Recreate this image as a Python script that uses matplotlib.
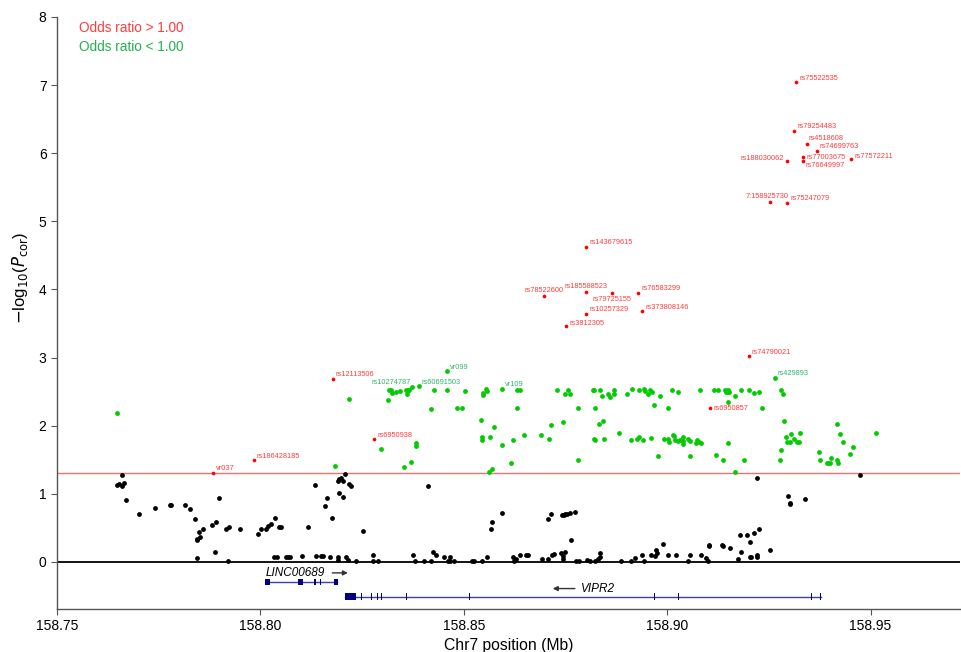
import numpy as np
import matplotlib
matplotlib.use("Agg")
import matplotlib.pyplot as plt

plt.rcParams['font.family'] = ['Liberation Sans', 'DejaVu Sans']

# non-significant SNPs (black)
black_x = [158.7660, 158.7647, 158.7653, 158.7661, 158.7665, 158.7669, 158.7702, 158.7742, 158.7778, 158.7780,
           158.7815, 158.7828, 158.7839, 158.7850, 158.7845, 158.7843, 158.7851, 158.7859, 158.7843, 158.7882,
           158.7892, 158.7889, 158.7898, 158.7916, 158.7924, 158.7920, 158.7950, 158.7994, 158.8002, 158.8014,
           158.8018, 158.8025, 158.8035, 158.8046, 158.8051, 158.8034, 158.8041, 158.8063, 158.8068, 158.8073,
           158.8103, 158.8118, 158.8135, 158.8136, 158.8148, 158.8153, 158.8163, 158.8158, 158.8176, 158.8170,
           158.8190, 158.8194, 158.8193, 158.8190, 158.8190, 158.8197, 158.8202, 158.8207, 158.8217, 158.8224,
           158.8202, 158.8253, 158.8413, 158.8566, 158.8569, 158.8595, 158.8707, 158.8210, 158.8215, 158.8235,
           158.8277, 158.8277, 158.8290, 158.8375, 158.8380, 158.8403, 158.8420, 158.8425, 158.8431, 158.8451,
           158.8461, 158.8466, 158.8466, 158.8475, 158.8521, 158.8526, 158.8546, 158.8556, 158.8620, 158.8623,
           158.8628, 158.8638, 158.8652, 158.8657, 158.8692, 158.8708, 158.8715, 158.8742, 158.8746, 158.8750,
           158.8755, 158.8760, 158.8773, 158.8763, 158.8716, 158.8723, 158.8739, 158.8745, 158.8750, 158.8745,
           158.8775, 158.8783, 158.8802, 158.8811, 158.8823, 158.8831, 158.8834, 158.8836, 158.8887, 158.8912,
           158.8921, 158.8939, 158.8942, 158.8960, 158.8969, 158.8973, 158.8975, 158.8991, 158.9002, 158.9021,
           158.9052, 158.9055, 158.9083, 158.9096, 158.9100, 158.9102, 158.9104, 158.9134, 158.9137, 158.9154,
           158.9175, 158.9204, 158.9222, 158.9474, 158.9297, 158.9301, 158.9303, 158.9338, 158.9178, 158.9197,
           158.9213, 158.9226, 158.9203, 158.9181, 158.9207, 158.9221, 158.9221, 158.9253]
black_y = [1.27, 1.13, 1.15, 1.12, 1.16, 0.91, 0.70, 0.79, 0.84, 0.84,
           0.84, 0.78, 0.63, 0.44, 0.34, 0.32, 0.36, 0.48, 0.06, 0.55,
           0.58, 0.14, 0.94, 0.48, 0.51, 0.01, 0.48, 0.41, 0.48, 0.48,
           0.53, 0.56, 0.65, 0.51, 0.51, 0.08, 0.07, 0.08, 0.08, 0.08,
           0.09, 0.51, 1.13, 0.09, 0.09, 0.09, 0.94, 0.82, 0.65, 0.07,
           1.19, 1.22, 1.01, 0.08, 0.03, 1.24, 1.19, 1.29, 1.15, 1.12,
           0.96, 0.45, 1.12, 0.48, 0.59, 0.72, 0.63, 0.08, 0.03, 0.01,
           0.10, 0.01, 0.01, 0.10, 0.01, 0.01, 0.01, 0.15, 0.10, 0.08,
           0.01, 0.08, 0.01, 0.01, 0.01, 0.01, 0.01, 0.08, 0.08, 0.01,
           0.04, 0.11, 0.11, 0.11, 0.04, 0.04, 0.70, 0.69, 0.69, 0.70,
           0.71, 0.72, 0.74, 0.33, 0.11, 0.12, 0.13, 0.09, 0.15, 0.04,
           0.01, 0.01, 0.03, 0.01, 0.01, 0.04, 0.13, 0.08, 0.01, 0.01,
           0.06, 0.11, 0.01, 0.11, 0.09, 0.18, 0.13, 0.27, 0.11, 0.10,
           0.01, 0.10, 0.10, 0.06, 0.01, 0.23, 0.25, 0.25, 0.24, 0.20,
           0.04, 0.07, 1.23, 1.27, 0.97, 0.85, 0.86, 0.93, 0.40, 0.39,
           0.42, 0.48, 0.30, 0.14, 0.07, 0.10, 0.08, 0.18]

# odds ratio < 1 (green), unlabelled
green_x = [158.7647, 158.8183, 158.8217, 158.8296, 158.8314, 158.8316, 158.8320, 158.8323, 158.8334, 158.8343,
           158.8358, 158.8361, 158.8362, 158.8366, 158.8353, 158.8371, 158.8382, 158.8382, 158.8420, 158.8427,
           158.8459, 158.8484, 158.8495, 158.8504, 158.8543, 158.8545, 158.8545, 158.8548, 158.8548, 158.8555,
           158.8556, 158.8563, 158.8570, 158.8565, 158.8575, 158.8594, 158.8620, 158.8617, 158.8632, 158.8638,
           158.8632, 158.8648, 158.8689, 158.8710, 158.8714, 158.8730, 158.8745, 158.8749, 158.8756, 158.8762,
           158.8780, 158.8782, 158.8818, 158.8820, 158.8834, 158.8839, 158.8823, 158.8832, 158.8843, 158.8819,
           158.8823, 158.8845, 158.8855, 158.8860, 158.8869, 158.8869, 158.8881, 158.8901, 158.8913, 158.8910,
           158.8926, 158.8930, 158.8941, 158.8931, 158.8942, 158.8945, 158.8953, 158.8957, 158.8962, 158.8961,
           158.8968, 158.8978, 158.8982, 158.8992, 158.9003, 158.9004, 158.9014, 158.9018, 158.9020, 158.9026,
           158.9031, 158.9038, 158.9039, 158.9040, 158.9052, 158.9055, 158.9070, 158.9074, 158.9078, 158.9083,
           158.9001, 158.9012, 158.9026, 158.9055, 158.9081, 158.9115, 158.9124, 158.9121, 158.9137, 158.9142,
           158.9145, 158.9149, 158.9150, 158.9153, 158.9149, 158.9149, 158.9168, 158.9182, 158.9201, 158.9213,
           158.9226, 158.9190, 158.9168, 158.9279, 158.9285, 158.9232, 158.9287, 158.9293, 158.9305, 158.9327,
           158.9312, 158.9295, 158.9302, 158.9320, 158.9323, 158.9280, 158.9278, 158.9374, 158.9376, 158.9392,
           158.9396, 158.9401, 158.9402, 158.9418, 158.9420, 158.9418, 158.9425, 158.9432, 158.9458, 158.9450,
           158.9514]
green_y = [2.19, 1.41, 2.39, 1.66, 2.38, 2.53, 2.53, 2.48, 2.50, 2.51,
           2.52, 2.46, 2.52, 2.52, 1.39, 1.47, 1.75, 1.70, 2.25, 2.52,
           2.53, 2.26, 2.26, 2.51, 2.09, 1.83, 1.79, 2.48, 2.45, 2.545,
           2.51, 1.32, 1.37, 1.83, 1.98, 1.72, 1.79, 1.46, 2.52, 2.52,
           2.26, 1.86, 1.86, 1.80, 2.01, 2.52, 2.06, 2.47, 2.52, 2.46,
           1.50, 2.26, 2.52, 2.52, 2.52, 2.44, 2.26, 2.02, 2.07, 1.80,
           1.79, 1.80, 2.47, 2.42, 2.46, 2.52, 1.89, 2.47, 2.54, 1.79,
           1.81, 1.83, 1.79, 2.53, 2.54, 2.51, 2.47, 2.52, 2.50, 1.82,
           2.31, 1.56, 2.43, 1.81, 1.81, 1.76, 1.86, 1.85, 1.79, 1.78,
           1.79, 1.83, 1.78, 1.73, 1.81, 1.78, 1.75, 1.79, 1.76, 1.75,
           2.26, 2.52, 2.49, 1.56, 2.52, 2.53, 2.52, 1.57, 1.50, 2.53,
           2.50, 2.53, 2.49, 2.49, 2.35, 1.75, 2.43, 2.52, 2.53, 2.48,
           2.50, 1.49, 1.32, 2.53, 2.46, 2.26, 2.07, 1.84, 1.88, 1.89,
           1.81, 1.76, 1.76, 1.76, 1.76, 1.64, 1.50, 1.62, 1.50, 1.46,
           1.46, 1.46, 1.52, 1.50, 1.45, 2.02, 1.88, 1.76, 1.69, 1.59,
           1.90]

# labelled green SNPs
green_names = ["rs10274787", "rs60691503", "vr099", "vr109", "rs429893"]
green_lx = [158.8372, 158.8389, 158.8458, 158.8593, 158.9265]
green_ly = [2.57, 2.58, 2.80, 2.545, 2.70]

# odds ratio > 1 (red), all labelled
red_names = ["rs75522535", "rs79254483", "rs4518608", "rs74699763", "rs77003675", "rs76649997",
             "rs188030062", "rs77572211", "7:158925730", "rs75247079", "rs143679615", "rs78522600",
             "rs185588523", "rs79725155", "rs76583299", "rs10257329", "rs373808146", "rs3812305",
             "rs74790021", "rs6950857", "rs12113506", "rs6950938", "rs186428185", "vr037"]
red_x = [158.9317, 158.9313, 158.9343, 158.9368, 158.9335, 158.9333,
         158.9295, 158.9452, 158.9252, 158.9295, 158.8801, 158.8697,
         158.8801, 158.8865, 158.8929, 158.8801, 158.8939, 158.8752,
         158.9201, 158.9106, 158.8178, 158.8280, 158.7984, 158.7884]
red_y = [7.04, 6.33, 6.14, 6.04, 5.94, 5.88,
         5.88, 5.91, 5.29, 5.27, 4.63, 3.91,
         3.97, 3.95, 3.95, 3.64, 3.68, 3.46,
         3.02, 2.26, 2.69, 1.80, 1.49, 1.31]

# gene models (Mb)
linc_span = (158.8016, 158.8188)
linc_exons = [(158.8012, 158.8023), (158.8093, 158.8105), (158.8132, 158.8136), (158.8146, 158.8149), (158.8181, 158.8192)]
vipr2_span = (158.8208, 158.9378)
vipr2_exons = [(158.8208, 158.8236), (158.8248, 158.8250), (158.8272, 158.8274), (158.8287, 158.8289),
               (158.8296, 158.8298), (158.8359, 158.8361), (158.8513, 158.8515), (158.8967, 158.8969),
               (158.9027, 158.9029), (158.9354, 158.9356), (158.9376, 158.9378)]

# label placement: (dx, dy) in points, ha
label_pos = {
    "rs188030062": (-2, 2, "right"), "rs76649997": (2, -3, "left"), "rs77003675": (2.5, 0, "left"),
    "rs4518608": (1, 3.5, "left"), "7:158925730": (-2, 3.5, "center"), "rs78522600": (0, 3.5, "center"),
    "rs185588523": (0, 3.5, "center"), "rs79725155": (0, -4.5, "center"), "rs6950857": (2, 0, "left"),
    "rs10274787": (-1, 3, "right"), "rs77572211": (2.5, 2, "left"), "rs3812305": (2.5, 2, "left"),
}

red_c = "#ff0000"
red_txt = "#ff3b3b"
green_c = "#00cc00"
green_txt = "#2fb36a"
gene_c = "#000080"

fig = plt.figure(figsize=(9.61, 6.52), dpi=100)
ax = fig.add_axes([57 / 961, 43 / 652, 903 / 961, 592 / 652])

ax.axhline(0, color="black", lw=1.3, zorder=1)
ax.axhline(-np.log10(0.05), color="#f07070", lw=1.0, zorder=1)

ax.scatter(black_x, black_y, s=12, color="black", lw=0, zorder=3)
ax.scatter(green_x + green_lx, green_y + green_ly, s=12, color=green_c, lw=0, zorder=3)
ax.scatter(red_x, red_y, s=7, color=red_c, lw=0, zorder=4)


def put_labels(names, xs, ys, color):
    for n, x, y in zip(names, xs, ys):
        dx, dy, ha = label_pos.get(n, (2.2, 3, "left"))
        ax.annotate(n, (x, y), xytext=(dx, dy), textcoords="offset points",
                    ha=ha, va="center", fontsize=5.3, color=color)


put_labels(red_names, red_x, red_y, red_txt)
put_labels(green_names, green_lx, green_ly, green_txt)

# gene track
ly, vy = -0.29, -0.51
ax.plot(linc_span, [ly, ly], color="#4040a8", lw=1.0, zorder=2)
for s, e in linc_exons:
    ax.add_patch(plt.Rectangle((s, ly - 0.045), e - s, 0.09, color=gene_c, lw=0, zorder=3))
ax.plot(vipr2_span, [vy, vy], color="#4040a8", lw=1.0, zorder=2)
for s, e in vipr2_exons:
    ax.add_patch(plt.Rectangle((s, vy - 0.055), e - s, 0.11, color=gene_c, lw=0, zorder=3))

ax.text(158.8158, -0.16, "LINC00689", style="italic", fontsize=8.5, ha="right", va="center")
ax.annotate("", xy=(158.8222, -0.16), xytext=(158.8170, -0.16),
            arrowprops=dict(arrowstyle="-|>", color="#333333", lw=1.0, mutation_scale=7))
ax.text(158.8788, -0.39, "VIPR2", style="italic", fontsize=8.5, ha="left", va="center")
ax.annotate("", xy=(158.8712, -0.39), xytext=(158.8780, -0.39),
            arrowprops=dict(arrowstyle="-|>", color="#333333", lw=1.0, mutation_scale=7))

# legend text
ax.text(0.024, 0.981, "Odds ratio > 1.00", color=red_txt, fontsize=9.8, transform=ax.transAxes, va="center")
ax.text(0.024, 0.949, "Odds ratio < 1.00", color="#22b14c", fontsize=9.8, transform=ax.transAxes, va="center")

ax.set_xlim(158.75, 158.972)
ax.set_ylim(-0.69, 8)
ax.set_xticks([158.75, 158.80, 158.85, 158.90, 158.95])
ax.set_xticklabels(["158.75", "158.80", "158.85", "158.90", "158.95"])
ax.set_yticks(range(0, 9))
ax.tick_params(labelsize=10, length=4, color="#555555")
for side in ["top", "right"]:
    ax.spines[side].set_visible(False)
for side in ["left", "bottom"]:
    ax.spines[side].set_color("#555555")
    ax.spines[side].set_linewidth(1.0)

ax.set_xlabel("Chr7 position (Mb)", fontsize=11.3, labelpad=3)
ax.set_ylabel(r"$-$log$_{10}$($P_{\mathrm{cor}}$)", fontsize=12, labelpad=5)
ax.yaxis.set_label_coords(-0.03, 0.56)

fig.savefig("out.png", dpi=100)
